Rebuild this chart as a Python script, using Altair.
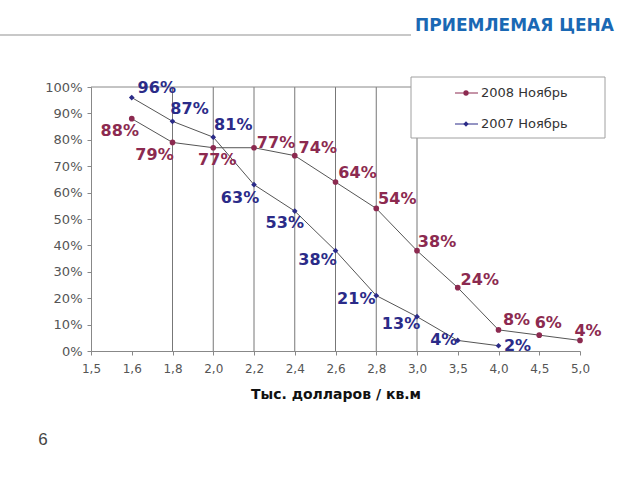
import altair as alt
import pandas as pd

# ---- data ----
x_labels = ["1,5", "1,6", "1,8", "2,0", "2,2", "2,4", "2,6", "2,8", "3,0", "3,5", "4,0", "4,5", "5,0"]
series_names = ["2008 Ноябрь", "2007 Ноябрь"]
x_2008 = x_labels[1:]
v_2008 = [88, 79, 77, 77, 74, 64, 54, 38, 24, 8, 6, 4]
x_2007 = x_labels[1:11]
v_2007 = [96, 87, 81, 63, 53, 38, 21, 13, 4, 2]
grid_x = ["1,8", "2,0", "2,2", "2,4", "2,6", "2,8", "3,0"]
y_ticks = [0, 10, 20, 30, 40, 50, 60, 70, 80, 90, 100]

# ---- styles ----
maroon = "#8C2A50"
navy = "#2B2B88"
line_gray = "#555555"
off_2008 = [(-12, 12), (-18, 13), (4, 12), (22, -5), (23, -8), (22, -9), (21, -9),
            (20, -9), (22, -8), (18, -10), (9, -12), (8, -9)]
off_2007 = [(25, -10), (17, -12), (20, -12), (-14, 13), (-10, 12), (-18, 9), (-20, 3),
            (-16, 7), (-14, 0), (19, 0)]

W, H = 489, 264

rows = []
for i, (x, v) in enumerate(zip(x_2008, v_2008)):
    rows.append({"x": x, "v": v, "series": series_names[0], "idx": i, "label": f"{v}%"})
for i, (x, v) in enumerate(zip(x_2007, v_2007)):
    rows.append({"x": x, "v": v, "series": series_names[1], "idx": i, "label": f"{v}%"})
df = pd.DataFrame(rows)

xscale = alt.Scale(domain=x_labels, type="point", padding=0)
xaxis = alt.Axis(title="Тыс. долларов / кв.м", labelAngle=0, labelAlign="center",
                 labelBaseline="top", grid=False,
                 domainColor="#888888", tickColor="#888888", tickSize=4,
                 labelColor="#555555", labelFont="DejaVu Sans", labelFontSize=12,
                 labelPadding=8, labelOverlap=False,
                 titleFont="DejaVu Sans", titleFontSize=14,
                 titleFontWeight="bold", titleColor="#111111", titlePadding=13)
yaxis = alt.Axis(title=None, values=y_ticks, labelExpr="datum.value + '%'",
                 labelOverlap=False, grid=False, domainColor="#888888",
                 tickColor="#888888", tickSize=4,
                 labelColor="#555555", labelFont="DejaVu Sans", labelFontSize=13,
                 labelPadding=5)
xenc = alt.X("x:O", sort=x_labels, scale=xscale, axis=xaxis)
yenc = alt.Y("v:Q", scale=alt.Scale(domain=[0, 100], nice=False), axis=yaxis)

base = alt.Chart(df)

grid = alt.Chart(pd.DataFrame({"x": grid_x})).mark_rule(color="#777777", strokeWidth=1).encode(
    x=alt.X("x:O", sort=x_labels, scale=xscale, axis=xaxis),
    y=alt.value(0), y2=alt.value(H))

top_line = alt.Chart(pd.DataFrame({"a": [0]})).mark_rule(color="#888888").encode(
    x=alt.value(0), x2=alt.value(W), y=alt.value(0))

lines = base.mark_line(color=line_gray, strokeWidth=1).encode(
    x=xenc, y=yenc, detail="series:N", order="idx:Q")

points = base.mark_point(filled=True, size=32, opacity=1).encode(
    x=xenc, y=yenc,
    color=alt.Color("series:N", scale=alt.Scale(domain=series_names, range=[maroon, navy]), legend=None),
    shape=alt.Shape("series:N", scale=alt.Scale(domain=series_names, range=["circle", "diamond"]), legend=None))

label_layers = []
for sname, offs, col in [(series_names[0], off_2008, maroon), (series_names[1], off_2007, navy)]:
    for i, (dx, dy) in enumerate(offs):
        label_layers.append(
            base.transform_filter(
                (alt.datum.series == sname) & (alt.datum.idx == i)
            ).mark_text(font="DejaVu Sans", fontSize=16, fontWeight="bold", color=col,
                        align="center", baseline="middle", dx=dx, dy=dy).encode(
                x=xenc, y=yenc, text="label:N"))

one = pd.DataFrame({"a": [0]})

# legend (drawn by hand, Excel style)
legend_box = alt.Chart(one).mark_rect(fill="white", stroke="#A0A0A0", strokeWidth=1).encode(
    x=alt.value(320), x2=alt.value(514), y=alt.value(-10), y2=alt.value(51))
legend_layers = [legend_box]
for k, (sname, col, shp) in enumerate([(series_names[0], maroon, "circle"), (series_names[1], navy, "diamond")]):
    yy = 6 + 31 * k
    ld = pd.DataFrame({"name": [sname]})
    legend_layers.append(alt.Chart(ld).mark_rule(color=col, strokeWidth=1).encode(
        x=alt.value(364), x2=alt.value(387), y=alt.value(yy)))
    legend_layers.append(alt.Chart(ld).mark_point(filled=True, size=28, shape=shp, color=col, opacity=1).encode(
        x=alt.value(375), y=alt.value(yy)))
    legend_layers.append(alt.Chart(ld).mark_text(font="DejaVu Sans", fontSize=13, color="#333333",
                                                 align="left", baseline="middle").encode(
        x=alt.value(390), y=alt.value(yy), text="name:N"))

header_line = alt.Chart(one).mark_rule(color="#C8C8C8", strokeWidth=2).encode(
    x=alt.value(-91), x2=alt.value(320), y=alt.value(-52))
title = alt.Chart(one).mark_text(text="ПРИЕМЛЕМАЯ ЦЕНА", font="DejaVu Sans", fontSize=17,
                                 fontWeight="bold", color="#1A68B4", align="right",
                                 baseline="alphabetic").encode(
    x=alt.value(523), y=alt.value(-56))
page_no = alt.Chart(one).mark_text(text="6", font="Liberation Sans", fontSize=17,
                                   color="#444444", align="center", baseline="middle").encode(
    x=alt.value(-48), y=alt.value(353))

chart = alt.layer(
    header_line, title, page_no, grid, top_line, lines, points, *label_layers, *legend_layers
).properties(
    width=W, height=H,
    autosize=alt.AutoSizeParams(type="none"),
    padding={"left": 91, "top": 87, "right": 60, "bottom": 129},
    background="white",
).configure_view(stroke=None)

chart.save("out.html", embed_options={"renderer": "svg", "actions": False})
